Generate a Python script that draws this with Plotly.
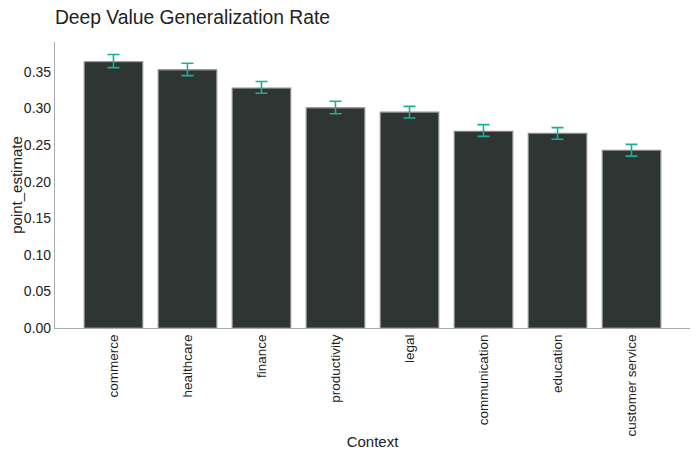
import plotly.graph_objects as go

categories = ["commerce", "healthcare", "finance", "productivity", "legal",
              "communication", "education", "customer service"]
point_estimate = [0.364, 0.353, 0.328, 0.301, 0.295, 0.269, 0.266, 0.243]
err_upper = [0.374, 0.362, 0.337, 0.310, 0.303, 0.278, 0.274, 0.251]
err_lower = [0.356, 0.345, 0.321, 0.293, 0.287, 0.262, 0.258, 0.235]

plus = [u - p for u, p in zip(err_upper, point_estimate)]
minus = [p - l for p, l in zip(point_estimate, err_lower)]

font = "Liberation Sans, Arial, sans-serif"

fig = go.Figure(go.Bar(
    x=categories, y=point_estimate, width=0.79,
    marker=dict(color="#2f3532", line=dict(color="#8a8d8c", width=1.2)),
    error_y=dict(type="data", symmetric=False, array=plus, arrayminus=minus,
                 color="#1aae98", thickness=1.6, width=6),
))

# page body has an 8px margin, so the figure is sized/offset to compensate
fig.update_layout(
    width=690, height=453,
    margin=dict(l=47, r=8, t=34, b=133),
    paper_bgcolor="white", plot_bgcolor="white",
    font=dict(family=font, color="#222", size=14),
    title=dict(text="Deep Value Generalization Rate", x=0.068, xanchor="left",
               y=0.98, yanchor="middle", font=dict(size=19.3, color="#222")),
    showlegend=False,
)
fig.update_xaxes(
    title=dict(text="Context", font=dict(size=15), standoff=0),
    range=[-0.79, 7.79], tickangle=-90, showline=True, linecolor="#aaaaaa",
    linewidth=1.2, showgrid=False, ticks="", zeroline=False, automargin=False,
    tickfont=dict(size=13.5),
)
fig.update_yaxes(
    title=dict(text="point_estimate", font=dict(size=15), standoff=0),
    range=[0, 0.391], tickvals=[0, 0.05, 0.1, 0.15, 0.2, 0.25, 0.3, 0.35],
    tickformat=".2f", showline=True, linecolor="#aaaaaa", linewidth=1.2,
    showgrid=False, ticks="", zeroline=False, automargin=False,
    tickfont=dict(size=14),
)

fig.write_html("out.html")
